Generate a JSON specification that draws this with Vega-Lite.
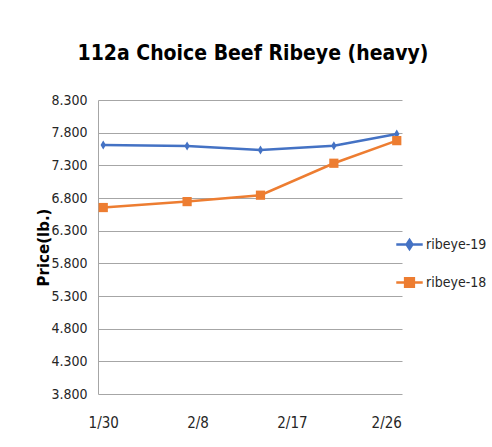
{
  "$schema": "https://vega.github.io/schema/vega-lite/v6.json",
  "autosize": "none",
  "width": 304,
  "height": 294,
  "padding": {"left": 98, "top": 100, "right": 90, "bottom": 53},
  "background": "white",
  "title": {
    "text": "112a Choice Beef Ribeye (heavy)",
    "font": "DejaVu Sans Condensed",
    "fontSize": 21,
    "fontWeight": "bold",
    "color": "#000000",
    "anchor": "middle",
    "offset": 29,
    "dx": 3
  },
  "data": {
    "values": [
      {"date": "2019-01-30T00:00:00", "series": "ribeye-19", "price": 7.612},
      {"date": "2019-02-07T00:00:00", "series": "ribeye-19", "price": 7.597},
      {"date": "2019-02-14T00:00:00", "series": "ribeye-19", "price": 7.535},
      {"date": "2019-02-21T00:00:00", "series": "ribeye-19", "price": 7.600},
      {"date": "2019-02-27T00:00:00", "series": "ribeye-19", "price": 7.780},
      {"date": "2019-01-30T00:00:00", "series": "ribeye-18", "price": 6.654},
      {"date": "2019-02-07T00:00:00", "series": "ribeye-18", "price": 6.745},
      {"date": "2019-02-14T00:00:00", "series": "ribeye-18", "price": 6.843},
      {"date": "2019-02-21T00:00:00", "series": "ribeye-18", "price": 7.332},
      {"date": "2019-02-27T00:00:00", "series": "ribeye-18", "price": 7.678}
    ]
  },
  "encoding": {
    "x": {
      "field": "date",
      "type": "temporal",
      "scale": {
        "domain": [
          {"year": 2019, "month": 1, "date": 29, "hours": 12},
          {"year": 2019, "month": 2, "date": 27, "hours": 12}
        ]
      },
      "axis": {
        "title": null,
        "values": [
          {"year": 2019, "month": 1, "date": 30},
          {"year": 2019, "month": 2, "date": 8},
          {"year": 2019, "month": 2, "date": 17},
          {"year": 2019, "month": 2, "date": 26}
        ],
        "format": "%-m/%-d",
        "grid": false,
        "domain": false,
        "ticks": false,
        "labelPadding": 21,
        "labelFontSize": 15,
        "labelFont": "DejaVu Sans Condensed",
        "labelColor": "#262626"
      }
    },
    "y": {
      "field": "price",
      "type": "quantitative",
      "scale": {"domain": [3.8, 8.3], "zero": false, "nice": false},
      "axis": {
        "title": "Price(lb.)",
        "titleFont": "DejaVu Sans",
        "titleFontSize": 15,
        "titleFontWeight": "bold",
        "titleColor": "#000000",
        "titlePadding": -1,
        "values": [3.8, 4.3, 4.8, 5.3, 5.8, 6.3, 6.8, 7.3, 7.8, 8.3],
        "format": ".3f",
        "grid": true,
        "gridColor": "#a6a6a6",
        "gridWidth": 1,
        "domain": true,
        "domainColor": "#a6a6a6",
        "ticks": false,
        "labelPadding": 11,
        "labelFontSize": 14,
        "labelFont": "DejaVu Sans Condensed",
        "labelColor": "#262626"
      }
    },
    "color": {
      "field": "series",
      "type": "nominal",
      "scale": {"domain": ["ribeye-19", "ribeye-18"], "range": ["#4472C4", "#ED7D31"]},
      "legend": {
        "title": null,
        "orient": "none",
        "legendX": 297,
        "legendY": 130,
        "labelFont": "DejaVu Sans Condensed",
        "labelFontSize": 14,
        "labelColor": "#262626",
        "labelOffset": 2,
        "rowPadding": 14,
        "symbolSize": 700,
        "symbolStrokeWidth": 2.5,
        "encode": {
          "symbols": {
            "update": {
              "shape": {"signal": "datum.value === 'ribeye-19' ? 'M-1,0H1M0,-0.34L0.22,0L0,0.34L-0.22,0Z' : 'M-1,0H1M-0.33,-0.33H0.33V0.33H-0.33Z'"},
              "fill": {"signal": "datum.value === 'ribeye-19' ? '#4472C4' : '#ED7D31'"},
              "stroke": {"signal": "datum.value === 'ribeye-19' ? '#4472C4' : '#ED7D31'"},
              "strokeWidth": {"value": 2.5},
              "strokeOpacity": {"value": 1},
              "fillOpacity": {"value": 1},
              "opacity": {"value": 1}
            }
          }
        }
      }
    }
  },
  "layer": [
    {"mark": {"type": "line", "strokeWidth": 2.5}},
    {
      "transform": [{"filter": "datum.series === 'ribeye-19'"}],
      "mark": {"type": "point", "filled": true, "opacity": 1, "shape": "M0,-1L0.6,0L0,1L-0.6,0Z", "size": 80}
    },
    {
      "transform": [{"filter": "datum.series === 'ribeye-18'"}],
      "mark": {"type": "point", "filled": true, "opacity": 1, "shape": "square", "size": 85}
    }
  ],
  "config": {"view": {"stroke": null}}
}
